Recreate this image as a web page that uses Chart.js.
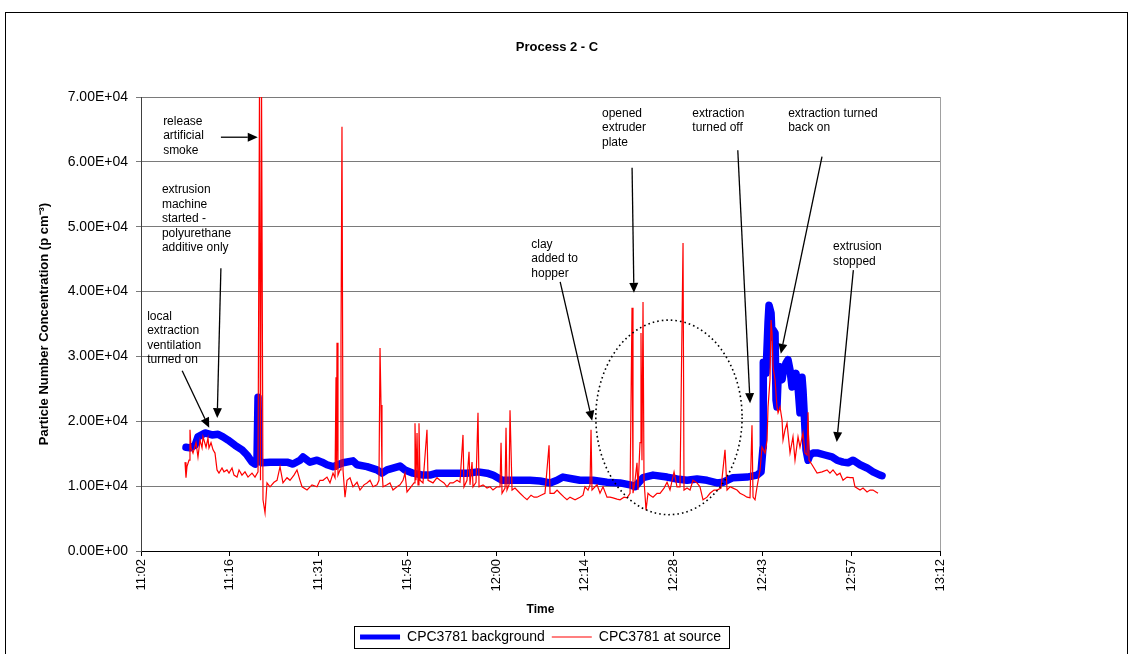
<!DOCTYPE html>
<html>
<head>
<meta charset="utf-8">
<title>Process 2 - C</title>
<script src="https://cdn.jsdelivr.net/npm/chart.js@4.4.1/dist/chart.umd.min.js"></script>
<style>
  html, body { margin: 0; padding: 0; background: #fff; }
  canvas { display: block; }
</style>
</head>
<body>
<canvas id="processChart" width="1133" height="654"></canvas>
<script>
// Time is kept as minutes after 11:00 (so 11:02 = 2, 13:12 = 132)
const xTickLabels = ['11:02', '11:16', '11:31', '11:45', '12:00', '12:14', '12:28', '12:43', '12:57', '13:12'];

// CPC3781 background (thick blue line)
const bgTime = [
    9.32, 9.97, 10.79, 11.27, 12.41, 13.55, 14.53, 15.34, 16.16, 17.30,
    18.44, 19.25, 20.06, 20.55, 20.87, 21.04, 21.20, 21.69, 22.99, 24.62,
    25.76, 26.73, 27.87, 28.36, 29.50, 30.64, 31.45, 32.26, 33.24, 34.87,
    36.49, 37.15, 38.77, 40.40, 41.21, 42.03, 44.14, 44.95, 46.26, 47.88,
    49.02, 50.16, 51.79, 53.42, 55.04, 56.83, 58.30, 59.27, 60.74, 62.04,
    63.67, 65.29, 66.92, 68.55, 69.69, 70.66, 72.29, 73.43, 75.55, 77.82,
    79.94, 81.56, 82.38, 83.68, 85.31, 87.59, 89.21, 90.84, 92.47, 94.09,
    95.72, 96.70, 98.32, 100.60, 102.23, 102.88, 103.21, 103.25, 103.69, 104.02,
    104.18, 104.51, 104.67, 104.83, 105.16, 105.32, 105.48, 105.65, 105.97, 106.30,
    106.46, 106.95, 107.27, 107.60, 107.92, 108.25, 108.57, 108.90, 109.22, 109.55,
    109.71, 110.04, 110.20, 110.53, 110.85, 111.34, 112.16, 113.29, 114.43, 115.24,
    116.22, 117.03, 117.85, 118.99, 120.13, 121.10, 122.24, 122.57
];
const bgConc = [
    16000, 15900, 16300, 17600, 18200, 17900, 18000, 17600, 17100, 16300,
    15600, 14800, 13700, 13400, 14000, 23700, 14000, 13600, 13700, 13700,
    13700, 13400, 14000, 14500, 13700, 14000, 13700, 13300, 13000, 13600,
    13900, 13300, 13000, 12500, 12000, 12500, 13100, 12500, 12000, 11700,
    11700, 12000, 12000, 12000, 12000, 12200, 12000, 11700, 10900, 10900,
    10900, 10900, 10800, 10500, 10900, 11400, 11100, 10900, 10900, 10600,
    10500, 10200, 9900, 11300, 11700, 11400, 11100, 10900, 11100, 10900,
    10500, 10600, 11300, 11400, 11700, 12200, 16000, 29100, 27400, 35200,
    37900, 36700, 33000, 34100, 33600, 23300, 22200, 26400, 28400, 26400,
    27400, 29000, 29500, 27900, 25300, 26800, 27400, 25300, 21300, 26800,
    24800, 18700, 15600, 14000, 14800, 15100, 15100, 14800, 14500, 14000,
    13700, 13600, 14000, 13300, 12800, 12200, 11700, 11600
];

// CPC3781 at source (thin red line)
const srcTime = [
    9.16, 9.32, 9.48, 9.81, 9.97, 10.14, 10.46, 10.95, 11.27, 11.60,
    11.93, 12.09, 12.58, 12.90, 13.06, 13.39, 13.72, 14.04, 14.37, 14.69,
    15.18, 15.50, 15.99, 16.32, 16.81, 17.13, 17.62, 17.95, 18.43, 18.92,
    19.41, 20.06, 20.55, 21.04, 21.28, 21.44, 21.61, 21.85, 22.18, 22.50,
    22.99, 23.64, 24.13, 24.62, 25.10, 25.76, 26.24, 26.89, 27.38, 27.87,
    28.20, 29.01, 29.82, 30.64, 31.12, 31.61, 32.26, 32.75, 33.24, 33.57,
    33.73, 33.81, 33.89, 34.05, 34.38, 34.54, 34.70, 34.87, 35.19, 35.52,
    36.01, 36.49, 37.15, 37.63, 38.28, 38.77, 39.26, 39.75, 40.40, 40.72,
    40.89, 41.05, 41.21, 41.38, 42.03, 42.51, 43.00, 43.65, 44.14, 44.63,
    44.95, 45.28, 45.93, 46.42, 46.58, 46.75, 46.91, 47.07, 47.23, 47.40,
    47.88, 48.53, 48.70, 49.51, 50.16, 50.65, 51.30, 51.79, 52.28, 52.77,
    53.42, 53.90, 54.39, 54.55, 55.04, 55.37, 55.53, 55.86, 56.02, 56.51,
    56.83, 57.00, 57.65, 58.30, 58.79, 59.27, 59.92, 60.41, 60.58, 60.74,
    61.23, 61.39, 61.55, 61.88, 62.04, 62.37, 62.85, 63.67, 64.32, 64.81,
    65.46, 65.95, 66.43, 67.08, 67.73, 68.39, 68.55, 69.20, 69.69, 70.18,
    70.83, 71.31, 71.80, 72.62, 73.43, 73.92, 74.24, 74.73, 75.06, 75.22,
    75.38, 75.87, 76.20, 76.68, 77.17, 77.82, 78.31, 78.80, 79.45, 79.94,
    80.59, 81.08, 81.57, 81.89, 82.05, 82.38, 82.70, 82.86, 83.19, 83.35,
    83.51, 83.68, 83.84, 84.17, 84.49, 84.82, 85.31, 85.96, 86.45, 87.10,
    87.59, 88.07, 88.73, 89.21, 89.70, 90.19, 90.35, 90.84, 91.33, 91.81,
    92.47, 92.95, 93.44, 94.09, 94.58, 95.23, 95.72, 96.37, 97.02, 97.35,
    97.84, 98.32, 98.97, 99.46, 100.11, 100.60, 101.09, 101.41, 101.58, 101.90,
    102.23, 102.72, 103.04, 103.53, 103.86, 104.02, 104.34, 104.51, 104.67, 104.83,
    105.16, 105.48, 105.65, 105.97, 106.30, 106.46, 106.79, 107.11, 107.60, 108.08,
    108.41, 108.90, 109.22, 109.71, 110.04, 110.36, 110.53, 110.69, 111.18, 112.00,
    112.81, 113.62, 114.10, 114.59, 115.24, 115.73, 116.22, 116.87, 117.36, 117.85,
    118.17, 118.99, 119.48, 120.13, 120.62, 121.10, 121.59, 121.92
];
const srcConc = [
    13700, 11300, 13000, 14000, 18700, 15900, 15100, 16700, 14500, 17100,
    15900, 17600, 16000, 17400, 15900, 16700, 15600, 15100, 12500, 12000,
    12800, 12200, 12500, 12000, 12800, 11700, 11400, 12500, 11700, 12200,
    11400, 12000, 11400, 12200, 72000, 10900, 72000, 7900, 5900, 10500,
    9900, 10600, 10900, 13000, 10500, 11300, 10900, 11700, 12500, 10900,
    9900, 9400, 10200, 9900, 10900, 10900, 11400, 10500, 12000, 11300,
    26800, 12500, 32100, 11700, 12500, 32500, 65400, 12500, 8300, 10900,
    11300, 9900, 10600, 9400, 10200, 10500, 10900, 9900, 10200, 10900,
    31300, 22500, 12500, 9900, 10200, 10500, 9400, 9900, 10200, 10900,
    12000, 9100, 9900, 10500, 19700, 10900, 18200, 10200, 19700, 10900,
    10500, 18700, 10900, 10500, 11300, 10900, 10500, 9900, 10500, 10500,
    10900, 10600, 17900, 9900, 10900, 15300, 10200, 13700, 9900, 10600,
    21300, 9900, 10200, 9700, 9900, 9400, 9900, 9900, 16700, 8900,
    9700, 19000, 9400, 10200, 21700, 9400, 9700, 8900, 8300, 7900,
    8600, 8300, 8300, 8600, 8900, 16300, 8900, 8900, 9400, 8900,
    8300, 7900, 8300, 7900, 8300, 8600, 9900, 9400, 10200, 18700,
    9400, 9900, 10200, 8900, 9900, 8300, 8300, 8200, 8000, 7900,
    8300, 8200, 8900, 37500, 8900, 10900, 13600, 9400, 16700, 33600,
    14000, 38400, 10900, 6300, 8900, 8600, 8300, 8900, 8900, 9700,
    10600, 9400, 12200, 9900, 9900, 47500, 9400, 9700, 9400, 10900,
    10500, 9900, 7900, 8300, 8900, 9400, 9400, 9700, 15600, 9400,
    9900, 9700, 9400, 8900, 8600, 8300, 8200, 19400, 8300, 7900,
    9900, 12500, 16000, 15100, 17100, 22200, 26400, 35600, 33600, 28400,
    26400, 22200, 21300, 22200, 20200, 17100, 18700, 19700, 15100, 17600,
    14000, 17600, 16000, 18200, 15100, 14800, 21400, 14000, 13300, 12000,
    12200, 12500, 12000, 12500, 11700, 12000, 10900, 11400, 11300, 11300,
    9900, 9400, 9700, 9100, 9400, 9400, 9100, 8900
];

// Callout texts, anchored in data units (first line centre)
const notes = [
    { lines: ['release', 'artificial', 'smoke'], t: 5.6, v: 66200 },
    { lines: ['extrusion', 'machine', 'started -', 'polyurethane', 'additive only'], t: 5.4, v: 55700 },
    { lines: ['local', 'extraction', 'ventilation', 'turned on'], t: 3.0, v: 36200 },
    { lines: ['clay', 'added to', 'hopper'], t: 65.5, v: 47300 },
    { lines: ['opened', 'extruder', 'plate'], t: 77.0, v: 67500 },
    { lines: ['extraction', 'turned off'], t: 91.7, v: 67500 },
    { lines: ['extraction turned', 'back on'], t: 107.3, v: 67500 },
    { lines: ['extrusion', 'stopped'], t: 114.6, v: 46900 }
];

// Arrows: [from t, from v, to t, to v]
const arrows = [
    [15.0, 63800, 21.0, 63800],
    [15.0, 43600, 14.4, 20500],
    [8.7, 27800, 13.1, 19000],
    [70.2, 41500, 75.4, 20100],
    [81.9, 59100, 82.2, 39800],
    [99.1, 61800, 101.1, 22800],
    [112.8, 60800, 106.1, 30400],
    [117.9, 43300, 115.2, 16800]
];

// Dotted ellipse round the extruder plate events
const ring = { t: 87.9, v: 20600, rt: 11.9, rv: 15000 };

function formatSci(value) {
    if (value === 0) return '0.00E+00';
    const exp = Math.floor(Math.log10(value));
    const mant = value / Math.pow(10, exp);
    return mant.toFixed(2) + 'E+' + String(exp).padStart(2, '0');
}

function toPoints(times, values) {
    return times.map((t, i) => ({ x: t, y: values[i] }));
}

function drawArrow(ctx, x1, y1, x2, y2) {
    const ang = Math.atan2(y2 - y1, x2 - x1);
    const len = 10, half = 4.5;
    const bx = x2 - len * Math.cos(ang);
    const by = y2 - len * Math.sin(ang);
    ctx.beginPath();
    ctx.moveTo(x1, y1);
    ctx.lineTo(bx, by);
    ctx.stroke();
    ctx.beginPath();
    ctx.moveTo(x2, y2);
    ctx.lineTo(bx + half * Math.sin(ang), by - half * Math.cos(ang));
    ctx.lineTo(bx - half * Math.sin(ang), by + half * Math.cos(ang));
    ctx.closePath();
    ctx.fill();
}

const decorations = {
    id: 'decorations',
    beforeDraw(chart) {
        const ctx = chart.ctx;
        ctx.save();
        ctx.fillStyle = '#fff';
        ctx.fillRect(0, 0, chart.width, chart.height);
        ctx.restore();
    },
    afterDraw(chart) {
        const { ctx, chartArea } = chart;
        const xs = chart.scales.x, ys = chart.scales.y;
        ctx.save();

        // outer border of the chart
        ctx.strokeStyle = '#000';
        ctx.lineWidth = 1;
        ctx.strokeRect(5.5, 12.5, 1122, 700);

        // right edge of the plot area
        const rx = Math.round(chartArea.right) + 0.5;
        ctx.strokeStyle = '#a0a0a0';
        ctx.beginPath();
        ctx.moveTo(rx, chartArea.top);
        ctx.lineTo(rx, chartArea.bottom);
        ctx.stroke();

        // frame round the legend
        const boxes = chart.legend.legendHitBoxes;
        if (boxes && boxes.length) {
            const first = boxes[0], last = boxes[boxes.length - 1];
            const left = Math.min(first.left, last.left) - 6;
            const right = Math.max(first.left + first.width, last.left + last.width) + 8;
            const top = first.top - 4;
            ctx.strokeStyle = '#000';
            ctx.strokeRect(Math.round(left) + 0.5, Math.round(top) + 0.5, Math.round(right - left), first.height + 8);
        }

        // dotted ellipse
        const cx = xs.getPixelForValue(ring.t), cy = ys.getPixelForValue(ring.v);
        const ex = xs.getPixelForValue(ring.t + ring.rt) - cx;
        const ey = cy - ys.getPixelForValue(ring.v + ring.rv);
        ctx.strokeStyle = '#000';
        ctx.lineWidth = 1.6;
        ctx.setLineDash([1.6, 3]);
        ctx.beginPath();
        ctx.ellipse(cx, cy, ex, ey, 0, 0, Math.PI * 2);
        ctx.stroke();
        ctx.setLineDash([]);

        // arrows
        ctx.lineWidth = 1.3;
        ctx.fillStyle = '#000';
        arrows.forEach(a => {
            drawArrow(ctx, xs.getPixelForValue(a[0]), ys.getPixelForValue(a[1]),
                xs.getPixelForValue(a[2]), ys.getPixelForValue(a[3]));
        });

        // callout texts
        ctx.font = '12px "Liberation Sans", Arial, sans-serif';
        ctx.textBaseline = 'middle';
        ctx.textAlign = 'left';
        notes.forEach(n => {
            const x = xs.getPixelForValue(n.t);
            const y = ys.getPixelForValue(n.v);
            n.lines.forEach((line, i) => ctx.fillText(line, x, y + i * 14.5));
        });

        ctx.restore();
    }
};

Chart.defaults.font.family = '"Liberation Sans", Arial, sans-serif';
Chart.defaults.color = '#000';

const ctx = document.getElementById('processChart').getContext('2d');
const processChart = new Chart(ctx, {
    type: 'line',
    data: {
        datasets: [{
            // first dataset is drawn on top
            label: 'CPC3781 at source',
            data: toPoints(srcTime, srcConc),
            borderColor: '#ff0000',
            backgroundColor: '#ff0000',
            borderWidth: 1.2,
            pointRadius: 0,
            tension: 0
        }, {
            label: 'CPC3781 background',
            data: toPoints(bgTime, bgConc),
            borderColor: '#0000ff',
            backgroundColor: '#0000ff',
            borderWidth: 7.5,
            borderJoinStyle: 'round',
            borderCapStyle: 'round',
            pointRadius: 0,
            tension: 0
        }]
    },
    options: {
        responsive: false,
        animation: false,
        events: [],
        layout: { padding: { top: 12, left: 30, right: 49, bottom: 0 } },
        scales: {
            x: {
                type: 'linear',
                min: 2,
                max: 132,
                afterBuildTicks: axis => {
                    axis.ticks = xTickLabels.map((_, i) => ({ value: 2 + i * 130 / 9 }));
                },
                ticks: {
                    autoSkip: false,
                    minRotation: 90,
                    maxRotation: 90,
                    padding: 3,
                    font: { size: 13 },
                    callback: (value, index) => xTickLabels[index]
                },
                grid: { drawOnChartArea: false, drawTicks: true, tickLength: 5, color: '#000' },
                border: { color: '#000' },
                title: {
                    display: true,
                    text: 'Time',
                    font: { size: 12, weight: 'bold' },
                    padding: { top: 0, bottom: 6 }
                },
                afterFit: axis => { axis.height = 72; }
            },
            y: {
                min: 0,
                max: 70000,
                ticks: { stepSize: 10000, padding: 8, font: { size: 14 }, callback: formatSci },
                grid: { color: '#7a7a7a', tickLength: 5 },
                border: { color: '#404040' },
                title: {
                    display: true,
                    text: 'Particle Number Concentration (p cm\u207B\u00B3)',
                    font: { size: 13, weight: 'bold' },
                    padding: { top: 7, bottom: 0 }
                },
                afterFit: axis => { axis.width = 111; }
            },
            // empty axis that keeps the space on the right of the plot
            spacer: {
                type: 'linear',
                position: 'right',
                grid: { display: false },
                border: { display: false },
                ticks: { display: false },
                afterFit: axis => { axis.width = 144; }
            }
        },
        plugins: {
            title: {
                display: true,
                text: 'Process 2 - C',
                font: { size: 13, weight: 'bold' },
                color: '#000',
                padding: { top: 28, bottom: 41.4 }
            },
            legend: {
                position: 'bottom',
                fullSize: false,
                reverse: true,
                labels: {
                    usePointStyle: true,
                    pointStyle: 'line',
                    pointStyleWidth: 40,
                    padding: 7,
                    color: '#000',
                    font: { size: 14 },
                    // legend sample of the thick line is a bit thinner than the plotted line
                    generateLabels: chart => Chart.defaults.plugins.legend.labels.generateLabels(chart)
                        .map(item => Object.assign(item, { lineWidth: Math.min(item.lineWidth, 5) }))
                }
            },
            tooltip: { enabled: false }
        }
    },
    plugins: [decorations]
});
</script>
</body>
</html>
